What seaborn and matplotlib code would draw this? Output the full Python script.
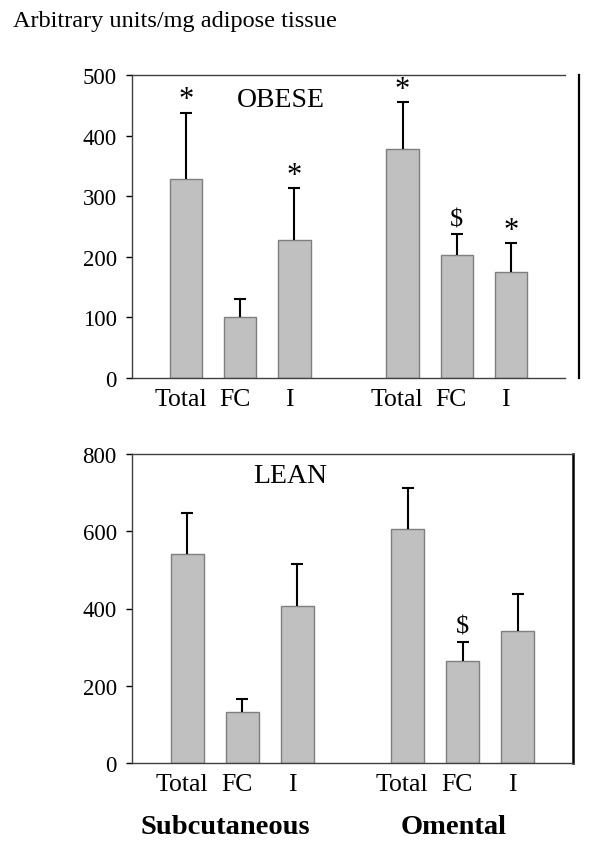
import numpy as np
import pandas as pd
import matplotlib
matplotlib.use("Agg")
import matplotlib.pyplot as plt
import seaborn as sns

# Chart values
labels = ['Total', 'FC', 'I', 'Total', 'FC', 'I']
positions = [0, 1, 2, 4, 5, 6]

obese_mean = [329, 101, 228, 378, 203, 175]
obese_err = [109, 29, 85, 77, 34, 47]
obese_marks = ['*', '', '*', '*', '$', '*']

lean_mean = [541, 133, 407, 606, 264, 342]
lean_err = [107, 33, 108, 107, 49, 95]
lean_marks = ['', '', '', '', '$', '']

sns.set_theme(style='white')
plt.rcParams['font.family'] = ['Liberation Serif', 'DejaVu Serif']
plt.rcParams['text.color'] = 'black'
plt.rcParams['xtick.color'] = 'black'
plt.rcParams['ytick.color'] = 'black'

BAR = '#c0c0c0'
EDGE = '#7f7f7f'


def draw_panel(ax, mean, err, marks, ymax, step, name, name_xy):
    df = pd.DataFrame({'pos': positions, 'value': mean})
    sns.barplot(data=df, x='pos', y='value', native_scale=True, width=0.6,
                color=BAR, edgecolor=EDGE, linewidth=1.0, saturation=1,
                errorbar=None, ax=ax)
    # upper error bars only, cap just at the top
    tops = np.array(mean) + np.array(err)
    ax.errorbar(positions, mean, yerr=[np.zeros(len(err)), err], fmt='none',
                ecolor='black', elinewidth=1.5, capsize=0, zorder=3)
    ax.scatter(positions, tops, marker='_', s=70, linewidths=1.5,
               color='black', zorder=3)
    for p, t, s in zip(positions, tops, marks):
        if not s:
            continue
        dy = -1 if s == '*' else 3
        ax.annotate(s, (p, t), xytext=(0, dy), textcoords='offset points',
                    ha='center', va='bottom', fontsize=22 if s == '*' else 19)
    ax.text(name_xy[0], name_xy[1], name, ha='center', va='center', fontsize=20)
    ax.set_xlim(-1, 7)
    ax.set_ylim(0, ymax)
    ax.set_yticks(np.arange(0, ymax + 1, step))
    # labels sit a touch left of the bar centres in the original
    ax.set_xticks(np.array(positions) - 0.1)
    ax.set_xticklabels(labels, fontsize=18.5)
    ax.tick_params(axis='y', labelsize=16.5, length=4, width=1, left=True,
                   pad=7)
    ax.tick_params(axis='x', length=0, pad=7)
    ax.set_xlabel('')
    ax.set_ylabel('')
    for sp in ax.spines.values():
        sp.set_color('#404040')
        sp.set_linewidth(1.0)


fig = plt.figure(figsize=(6, 8.54), dpi=100)
ax1 = fig.add_axes([0.22, 1 - 379 / 854, 433 / 600, 303 / 854])
ax2 = fig.add_axes([0.22, 1 - 764 / 854, 441 / 600, 309 / 854])

draw_panel(ax1, obese_mean, obese_err, obese_marks, 500, 100, 'OBESE', (1.75, 460))
draw_panel(ax2, lean_mean, lean_err, lean_marks, 800, 200, 'LEAN', (1.87, 745))

# top panel: right line sits a little outside the box
ax1.spines['right'].set_position(('outward', 10))
ax1.spines['right'].set_color('black')
ax1.spines['right'].set_linewidth(1.6)
ax2.spines['right'].set_color('black')
ax2.spines['right'].set_linewidth(1.8)

fig.text(0.022, 1 - 22 / 854, 'Arbitrary units/mg adipose tissue',
         ha='left', va='center', fontsize=17.5)
fig.text(225 / 600, 1 - 828 / 854, 'Subcutaneous', ha='center', va='center',
         fontsize=20.5, fontweight='bold')
fig.text(454 / 600, 1 - 828 / 854, 'Omental', ha='center', va='center',
         fontsize=20.5, fontweight='bold')

fig.savefig('out.png', dpi=100)
